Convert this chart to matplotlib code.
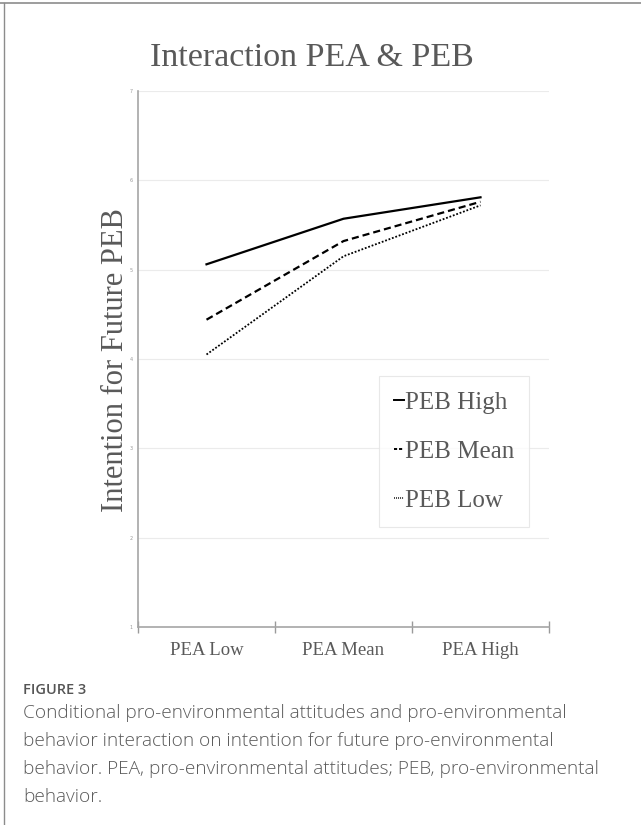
import matplotlib
matplotlib.use("Agg")
import matplotlib.pyplot as plt
from matplotlib.lines import Line2D

# data
categories = ["PEA Low", "PEA Mean", "PEA High"]
peb_high = [5.06, 5.57, 5.81]
peb_mean = [4.44, 5.32, 5.76]
peb_low = [4.05, 5.15, 5.72]
series_labels = ["PEB High", "PEB Mean", "PEB Low"]
y_ticks = [1, 2, 3, 4, 5, 6, 7]

caption_head = "FIGURE 3"
caption_body = ("Conditional pro-environmental attitudes and pro-environmental\n"
                "behavior interaction on intention for future pro-environmental\n"
                "behavior. PEA, pro-environmental attitudes; PEB, pro-environmental\n"
                "behavior.")

W, H = 641, 825
fig = plt.figure(figsize=(W / 100, H / 100), dpi=100)
serif = ["Liberation Serif", "DejaVu Serif"]
sans = ["Open Sans", "DejaVu Sans"]
txt = "#595959"

ax = fig.add_axes([138 / W, 1 - 627 / H, (549 - 138) / W, (627 - 91) / H])
x = list(range(len(categories)))
styles = [dict(ls="-", lw=1.6), dict(ls=(0, (3.2, 1.8)), lw=1.6), dict(ls=(0, (1, 1)), lw=1.3)]
for vals, lab, st in zip([peb_high, peb_mean, peb_low], series_labels, styles):
    ax.plot(x, vals, color="black", label=lab, **st)

ax.set_xlim(-0.5, len(categories) - 0.5)
ax.set_ylim(min(y_ticks), max(y_ticks))
ax.set_yticks(y_ticks)
ax.set_yticklabels([str(t) for t in y_ticks], fontsize=3.5, color="#999999")
ax.tick_params(axis="y", length=0, pad=4)
ax.set_xticks(x)
ax.set_xticklabels(categories, fontsize=13.5, color=txt, family=serif)
ax.tick_params(axis="x", which="major", length=0, pad=11)
ax.set_xticks([i - 0.5 for i in range(len(categories) + 1)], minor=True)
ax.tick_params(axis="x", which="minor", direction="inout", length=8, width=1, color="#9a9a9a")
ax.grid(axis="y", color="#ebebeb", lw=0.8)
ax.set_axisbelow(True)
for s in ["top", "right"]:
    ax.spines[s].set_visible(False)
for s in ["left", "bottom"]:
    ax.spines[s].set_color("#a6a6a6")
    ax.spines[s].set_linewidth(1.2)

# legend keys are tiny in the original: short dash, double dash, dots
handles = [Line2D([], [], color="black", ls="-", lw=1.4),
           Line2D([], [], color="black", ls=(0, (1.6, 1.0)), lw=1.4),
           Line2D([], [], color="black", ls=(0, (0.6, 0.7)), lw=1.1)]
leg = ax.legend(handles, series_labels, loc="upper left", bbox_to_anchor=(0.586, 0.468),
                borderaxespad=0, prop={"family": serif, "size": 18}, handlelength=0.4,
                handletextpad=0.05, labelspacing=1.06, borderpad=0.6, fancybox=False,
                frameon=True)
leg.get_frame().set_edgecolor("#e3e3e3")
leg.get_frame().set_linewidth(0.8)
for t in leg.get_texts():
    t.set_color(txt)

fig.text(312 / W, 1 - 66 / H, "Interaction PEA & PEB", family=serif, fontsize=24.5,
         color=txt, ha="center", va="baseline")
fig.text(116 / W, 1 - 360 / H, "Intention for Future PEB", family=serif, fontsize=22,
         color=txt, ha="center", va="center", rotation=90)

fig.text(23 / W, 1 - 690 / H, caption_head, family=sans,
         fontsize=10.5, color="#555555", va="center", weight="semibold")
fig.text(23 / W, 1 - 704 / H, caption_body, family=sans,
         fontsize=13.7, color="#5a5a5a", va="top", linespacing=1.72, weight="light")

# page frame: top and left rules
fig.add_artist(Line2D([0, 1], [1 - 3 / H, 1 - 3 / H], color="#8c8c8c", lw=1.2))
fig.add_artist(Line2D([4 / W, 4 / W], [0, 1 - 3 / H], color="#8c8c8c", lw=1.0))

fig.savefig("out.png", dpi=100)
